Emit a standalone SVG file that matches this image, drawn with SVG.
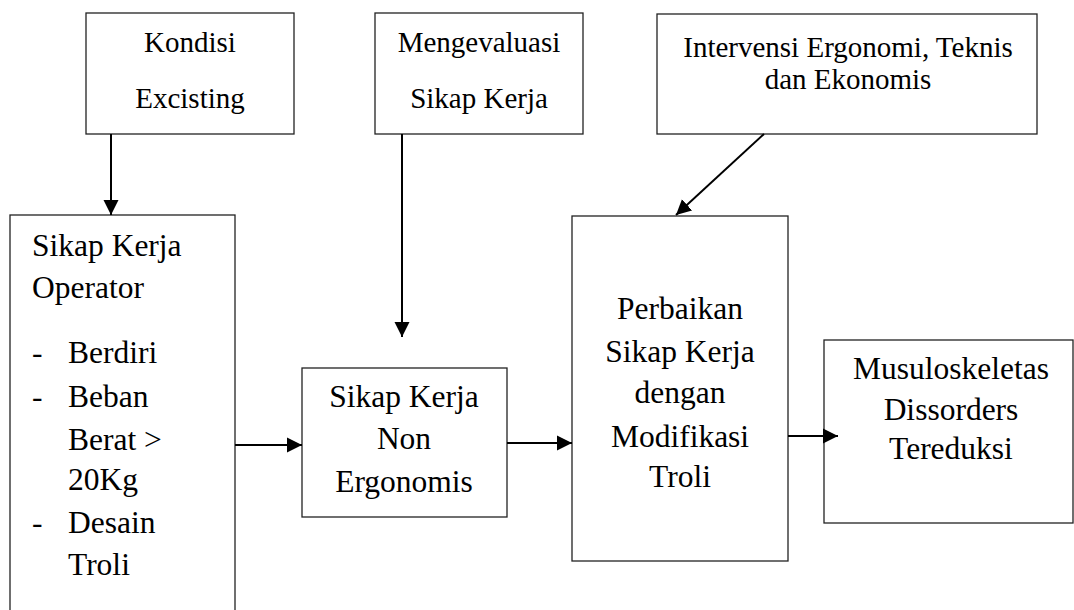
<svg xmlns="http://www.w3.org/2000/svg" width="1074" height="610" viewBox="0 0 1074 610">
<style>
.box{fill:#fff;stroke:#222;stroke-width:1.3}
text{font-family:'Liberation Serif','Times New Roman',Times,serif;fill:#000}
.t{font-size:29px}
.t2{font-size:31.5px}
.c{text-anchor:middle}
.ln{stroke:#000;stroke-width:2;fill:none;marker-end:url(#ah)}
</style>
<defs>
<marker id="ah" markerUnits="userSpaceOnUse" markerWidth="16" markerHeight="16" refX="15" refY="8" orient="auto">
<path d="M0,0.5 L15,8 L0,15.5 Z" fill="#000"/>
</marker>
</defs>
<rect width="1074" height="610" fill="#fff"/>
<g id="kondisi">
<rect class="box" x="86" y="13" width="208" height="121"/>
<text class="t c" x="190" y="52">Kondisi</text>
<text class="t c" x="190" y="108">Excisting</text>
</g>
<g id="mengevaluasi">
<rect class="box" x="375" y="13" width="208" height="121"/>
<text class="t c" x="479" y="52">Mengevaluasi</text>
<text class="t c" x="479" y="108">Sikap Kerja</text>
</g>
<g id="intervensi">
<rect class="box" x="657" y="14" width="380" height="120"/>
<text class="t c" x="848" y="57">Intervensi Ergonomi, Teknis</text>
<text class="t c" x="848" y="89">dan Ekonomis</text>
</g>
<g id="operator">
<rect class="box" x="10" y="215" width="225" height="420"/>
<text class="t2" x="32" y="256">Sikap Kerja</text>
<text class="t2" x="32" y="298">Operator</text>
<text class="t2" x="32" y="363">-</text>
<text class="t2" x="68" y="363">Berdiri</text>
<text class="t2" x="32" y="407">-</text>
<text class="t2" x="68" y="407">Beban</text>
<text class="t2" x="68" y="450">Berat &gt;</text>
<text class="t2" x="68" y="490">20Kg</text>
<text class="t2" x="32" y="533">-</text>
<text class="t2" x="68" y="533">Desain</text>
<text class="t2" x="68" y="575">Troli</text>
</g>
<g id="nonergonomis">
<rect class="box" x="302" y="368" width="205" height="149"/>
<text class="t2 c" x="404" y="407">Sikap Kerja</text>
<text class="t2 c" x="404" y="449">Non</text>
<text class="t2 c" x="404" y="492">Ergonomis</text>
</g>
<g id="perbaikan">
<rect class="box" x="572" y="216" width="216" height="345"/>
<text class="t2 c" x="680" y="319">Perbaikan</text>
<text class="t2 c" x="680" y="362">Sikap Kerja</text>
<text class="t2 c" x="680" y="403">dengan</text>
<text class="t2 c" x="680" y="447">Modifikasi</text>
<text class="t2 c" x="680" y="487">Troli</text>
</g>
<g id="musuloskeletas">
<rect class="box" x="824" y="340" width="249" height="183"/>
<text class="t2 c" x="951" y="379">Musuloskeletas</text>
<text class="t2 c" x="951" y="420">Dissorders</text>
<text class="t2 c" x="951" y="459">Tereduksi</text>
</g>
<g id="connectors">
<line class="ln" x1="111" y1="134" x2="111" y2="215"/>
<line class="ln" x1="402" y1="134" x2="402" y2="337"/>
<line class="ln" x1="764" y1="134" x2="676" y2="215"/>
<line class="ln" x1="235" y1="445" x2="302" y2="445"/>
<line class="ln" x1="507" y1="443" x2="572" y2="443"/>
<line class="ln" x1="788" y1="436" x2="838" y2="436"/>
</g>
</svg>
